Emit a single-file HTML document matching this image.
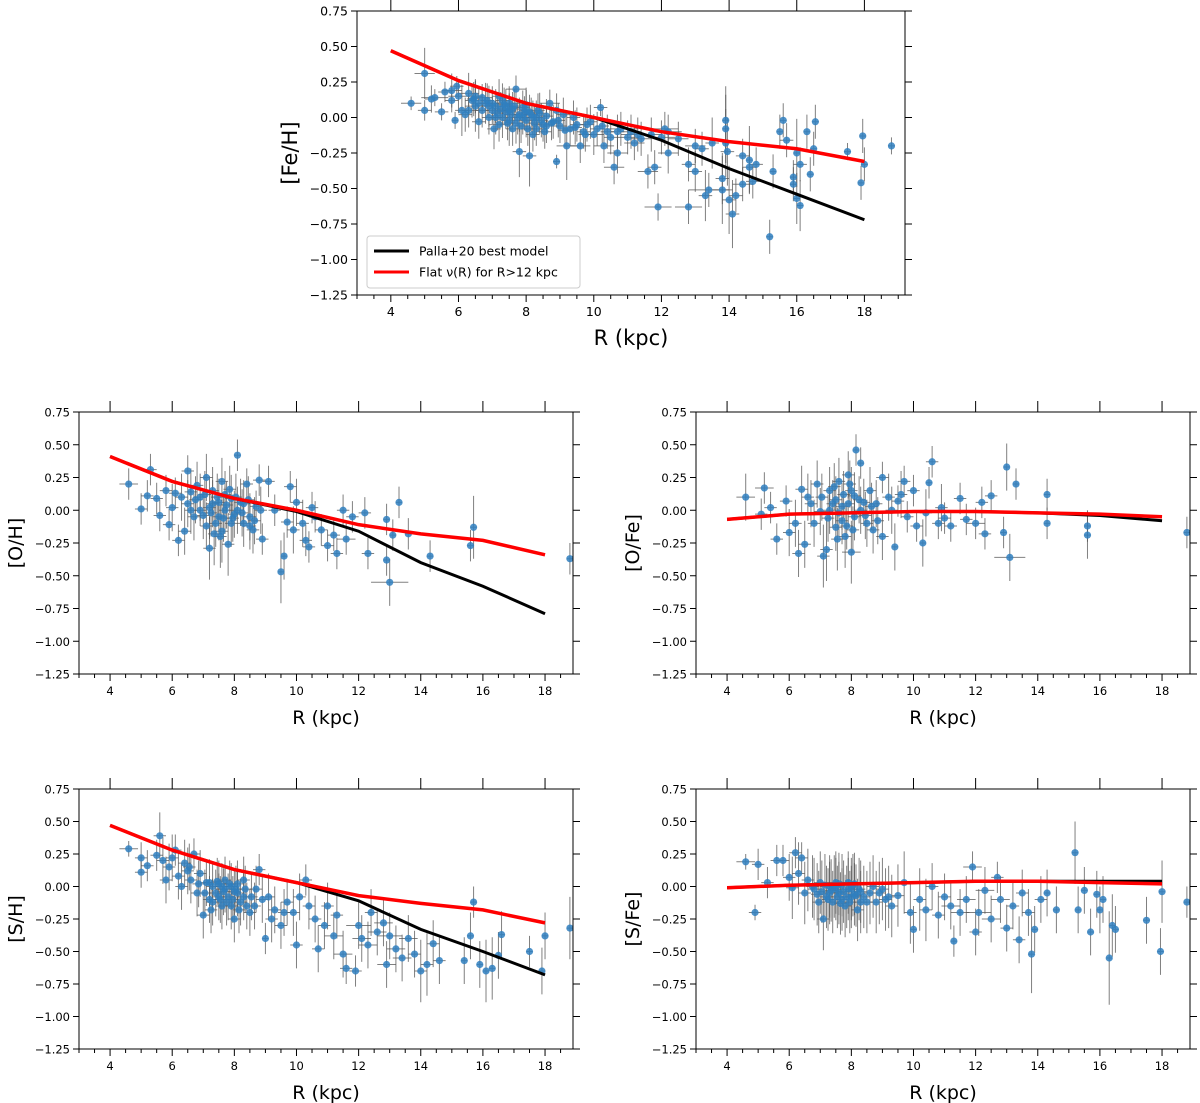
<!DOCTYPE html>
<html><head><meta charset="utf-8"><style>
html,body{margin:0;padding:0;background:#fff;}
svg{display:block;font-family:"DejaVu Sans","Liberation Sans",sans-serif;}
</style></head><body>
<svg id="fig" width="1200" height="1103" viewBox="0 0 1200 1103" xmlns="http://www.w3.org/2000/svg"></svg>
<script>
const yTicks=[0.75,0.5,0.25,0,-0.25,-0.5,-0.75,-1.0,-1.25];
const yTickLabels=["0.75","0.50","0.25","0.00","−0.25","−0.50","−0.75","−1.00","−1.25"];
const xTicks=[4,6,8,10,12,14,16,18];
const modelR=[4,6,8,10,12,14,16,18];
const feBlack=[0.47,0.26,0.10,0.0,-0.16,-0.36,-0.54,-0.72];
const feRed=[0.47,0.26,0.10,0.0,-0.10,-0.17,-0.22,-0.31];
const ohBlack=[0.41,0.22,0.09,-0.01,-0.16,-0.40,-0.58,-0.79];
const ohRed=[0.41,0.22,0.09,0.0,-0.11,-0.18,-0.23,-0.34];
const ofeBlack=[-0.07,-0.03,-0.02,-0.01,-0.01,-0.02,-0.04,-0.08];
const ofeRed=[-0.07,-0.03,-0.02,-0.01,-0.01,-0.02,-0.03,-0.05];
const shBlack=[0.47,0.28,0.13,0.03,-0.11,-0.33,-0.50,-0.68];
const shRed=[0.47,0.28,0.13,0.03,-0.07,-0.13,-0.18,-0.28];
const sfeBlack=[-0.01,0.01,0.02,0.03,0.04,0.04,0.04,0.04];
const sfeRed=[-0.01,0.01,0.02,0.03,0.04,0.04,0.03,0.02];
// points: [R, value, yErr, xErr]
const fePts=[[4.6,0.10,0.04,0.3],[5.0,0.31,0.15,0.3],[5.0,0.05,0.06,0.2],[5.3,0.14,0.05,0.4],[5.2,0.13,0.08,0.2],[5.5,0.04,0.05,0.2],[5.6,0.18,0.06,0.2],[5.8,0.19,0.1,0.3],[5.8,0.12,0.07,0.2],[5.9,-0.02,0.05,0.1],[5.95,0.22,0.06,0.2],[6.0,0.15,0.1,0.3],[6.1,0.05,0.15,0.2],[6.2,0.02,0.1,0.2],[6.3,0.17,0.12,0.3],[6.4,0.12,0.1,0.2],[6.5,0.08,0.15,0.3],[6.5,0.15,0.1,0.2],[6.6,-0.03,0.1,0.2],[6.7,0.14,0.08,0.3],[6.8,0.10,0.12,0.2],[6.9,0.0,0.1,0.2],[7.0,0.05,0.08,0.5],[7.1,0.08,0.1,0.2],[7.2,-0.05,0.1,0.3],[7.3,0.12,0.1,0.2],[7.3,0.0,0.12,0.2],[7.4,0.04,0.1,0.3],[7.5,-0.02,0.15,0.2],[7.5,0.10,0.1,0.4],[7.6,0.06,0.1,0.2],[7.7,0.20,0.08,0.3],[7.7,-0.04,0.12,0.2],[7.8,0.02,0.1,0.3],[7.8,-0.24,0.15,0.2],[7.9,0.07,0.1,0.2],[8.0,-0.02,0.1,0.3],[8.0,0.05,0.12,0.2],[8.1,-0.27,0.18,0.2],[8.2,0.0,0.1,0.2],[8.3,-0.08,0.1,0.3],[8.4,0.03,0.12,0.2],[8.5,-0.05,0.1,0.3],[8.6,0.01,0.1,0.2],[8.7,0.10,0.08,0.3],[8.8,-0.03,0.1,0.2],[8.9,0.05,0.1,0.2],[8.9,-0.31,0.04,0.1],[9.0,-0.06,0.1,0.2],[9.1,0.02,0.1,0.2],[9.2,-0.20,0.2,0.3],[9.3,-0.08,0.1,0.2],[9.5,-0.05,0.1,0.2],[9.6,-0.20,0.1,0.3],[9.7,-0.10,0.1,0.2],[9.8,-0.05,0.1,0.2],[10.0,-0.12,0.12,0.3],[10.1,-0.08,0.1,0.2],[10.2,0.07,0.05,0.2],[10.3,-0.20,0.1,0.3],[10.5,-0.14,0.1,0.2],[10.6,-0.35,0.1,0.3],[10.7,-0.25,0.12,0.3],[10.8,-0.08,0.1,0.5],[11.0,-0.14,0.1,0.3],[11.2,-0.18,0.1,0.3],[11.3,-0.12,0.1,0.5],[11.6,-0.38,0.1,0.3],[11.8,-0.35,0.1,0.2],[11.9,-0.63,0.08,0.4],[12.1,-0.08,0.1,0.4],[12.2,-0.25,0.12,0.3],[12.5,-0.15,0.1,0.3],[12.8,-0.63,0.1,0.4],[12.8,-0.33,0.1,0.2],[13.0,-0.38,0.12,0.2],[13.0,-0.20,0.1,0.3],[13.2,-0.22,0.1,0.2],[13.3,-0.55,0.15,0.2],[13.4,-0.51,0.1,0.6],[13.5,-0.18,0.15,0.2],[13.8,-0.43,0.15,0.2],[13.8,-0.51,0.2,0.3],[13.9,-0.02,0.2,0.1],[13.9,-0.08,0.2,0.1],[13.9,-0.18,0.2,0.1],[13.95,-0.24,0.2,0.2],[14.2,-0.55,0.1,0.2],[14.0,-0.58,0.2,0.2],[14.1,-0.68,0.2,0.2],[14.4,-0.47,0.1,0.3],[14.4,-0.27,0.1,0.2],[14.6,-0.30,0.2,0.1],[14.6,-0.35,0.15,0.2],[14.7,-0.45,0.1,0.2],[14.8,-0.33,0.1,0.2],[15.3,-0.38,0.1,0.1],[15.2,-0.84,0.1,0.1],[15.5,-0.10,0.1,0.1],[15.6,-0.02,0.1,0.1],[15.7,-0.16,0.1,0.2],[15.9,-0.42,0.1,0.1],[15.9,-0.47,0.1,0.1],[16.0,-0.57,0.15,0.1],[16.0,-0.25,0.2,0.1],[16.1,-0.62,0.15,0.1],[16.1,-0.33,0.1,0.2],[16.3,-0.10,0.1,0.1],[16.4,-0.40,0.1,0.1],[16.5,-0.22,0.1,0.1],[16.55,-0.03,0.1,0.1],[17.5,-0.24,0.05,0.1],[17.9,-0.46,0.1,0.1],[17.95,-0.13,0.1,0.1],[18.0,-0.33,0.1,0.1],[18.8,-0.20,0.05,0.1],
[6.6,0.10,0.1,0.2],[6.9,0.08,0.12,0.2],[7.1,0.0,0.1,0.2],[7.4,0.08,0.1,0.2],[7.6,-0.08,0.1,0.2],[7.9,0.0,0.1,0.2],[8.1,0.04,0.1,0.2],[8.3,0.0,0.1,0.2],[8.6,-0.06,0.1,0.2],[8.2,-0.12,0.1,0.2],[7.2,0.15,0.1,0.2],[6.3,0.05,0.1,0.2],[9.4,0.0,0.1,0.2],[9.9,-0.03,0.1,0.2],[10.4,-0.10,0.1,0.2],[11.4,-0.15,0.1,0.3],[12.0,-0.14,0.1,0.4],
[6.45,0.13,0.1,0.2],[6.7,0.05,0.1,0.2],[6.85,0.12,0.1,0.2],[7.0,0.10,0.1,0.2],[7.15,0.03,0.1,0.2],[7.25,0.06,0.1,0.2],[7.35,0.09,0.1,0.2],[7.45,-0.04,0.1,0.2],[7.55,0.02,0.1,0.2],[7.65,0.08,0.1,0.2],[7.75,0.0,0.1,0.2],[7.85,-0.06,0.1,0.2],[7.95,0.03,0.1,0.2],[8.05,-0.08,0.1,0.2],[8.15,0.02,0.1,0.2],[8.25,-0.04,0.1,0.2],[8.35,0.05,0.1,0.2],[8.45,-0.02,0.1,0.2],[8.55,-0.10,0.1,0.2],[8.75,-0.04,0.1,0.2],[8.95,-0.02,0.1,0.2],[9.15,-0.09,0.1,0.2],[9.45,-0.07,0.1,0.2],[9.75,-0.12,0.1,0.2],[10.25,-0.06,0.1,0.2],[10.7,-0.10,0.1,0.2],[11.1,-0.10,0.1,0.3],[11.7,-0.12,0.1,0.3],[12.2,-0.10,0.1,0.4],[7.05,-0.08,0.12,0.2],[7.5,0.05,0.1,0.2],[8.0,0.09,0.1,0.2]];
const ohPts=[[4.6,0.20,0.1,0.3],[5.0,0.01,0.1,0.2],[5.2,0.11,0.1,0.2],[5.3,0.31,0.1,0.2],[5.5,0.09,0.1,0.2],[5.6,-0.04,0.1,0.2],[5.8,0.15,0.1,0.2],[5.9,-0.11,0.1,0.2],[6.0,0.02,0.15,0.2],[6.1,0.13,0.1,0.2],[6.2,-0.23,0.1,0.2],[6.3,0.10,0.15,0.2],[6.4,-0.16,0.15,0.2],[6.5,0.30,0.1,0.2],[6.5,0.05,0.15,0.2],[6.6,0.14,0.15,0.2],[6.7,-0.05,0.15,0.2],[6.8,0.19,0.15,0.2],[6.9,0.10,0.15,0.2],[7.0,-0.04,0.15,0.2],[7.1,0.25,0.15,0.2],[7.2,0.02,0.2,0.2],[7.2,-0.29,0.2,0.2],[7.3,0.15,0.15,0.2],[7.4,-0.10,0.15,0.2],[7.5,0.06,0.15,0.2],[7.6,0.22,0.15,0.2],[7.6,-0.16,0.2,0.2],[7.7,0.0,0.15,0.2],[7.8,-0.26,0.2,0.2],[7.9,0.09,0.15,0.2],[8.0,-0.03,0.15,0.2],[8.1,0.42,0.1,0.1],[8.2,0.06,0.15,0.2],[8.3,-0.10,0.15,0.2],[8.4,0.20,0.1,0.2],[8.5,-0.05,0.15,0.2],[8.6,-0.15,0.15,0.2],[8.7,0.03,0.1,0.2],[8.8,0.23,0.1,0.2],[8.9,-0.22,0.1,0.2],[9.1,0.22,0.1,0.2],[9.3,0.0,0.1,0.2],[9.5,-0.47,0.2,0.1],[9.6,-0.35,0.15,0.1],[9.7,-0.09,0.1,0.2],[9.8,0.18,0.1,0.2],[9.9,-0.15,0.15,0.2],[10.0,0.06,0.15,0.2],[10.2,-0.10,0.15,0.2],[10.3,-0.23,0.1,0.2],[10.4,-0.28,0.1,0.2],[10.5,0.02,0.1,0.2],[10.6,-0.05,0.1,0.2],[10.8,-0.15,0.1,0.2],[11.0,-0.27,0.1,0.2],[11.2,-0.19,0.1,0.2],[11.3,-0.33,0.1,0.2],[11.5,0.0,0.1,0.2],[11.6,-0.22,0.1,0.3],[11.8,-0.05,0.1,0.2],[12.2,-0.02,0.1,0.2],[12.3,-0.33,0.1,0.2],[12.9,-0.07,0.1,0.1],[12.9,-0.38,0.1,0.1],[13.0,-0.55,0.15,0.6],[13.1,-0.19,0.1,0.1],[13.3,0.06,0.1,0.1],[13.6,-0.18,0.1,0.1],[14.3,-0.35,0.1,0.1],[15.6,-0.27,0.1,0.1],[15.7,-0.13,0.2,0.1],[18.8,-0.37,0.1,0.1],
[6.9,0.0,0.1,0.2],[7.3,0.05,0.15,0.2],[7.5,-0.05,0.15,0.2],[7.7,0.12,0.15,0.2],[7.9,-0.1,0.15,0.2],[8.1,0.0,0.15,0.2],[8.3,0.05,0.15,0.2],[8.5,-0.12,0.15,0.2],[7.1,-0.12,0.15,0.2],[6.6,0.0,0.15,0.2],
[6.75,0.08,0.15,0.2],[7.05,0.12,0.15,0.2],[7.25,-0.02,0.15,0.2],[7.45,0.10,0.15,0.2],[7.55,-0.20,0.2,0.2],[7.75,0.04,0.15,0.2],[7.85,0.16,0.15,0.2],[7.95,-0.06,0.15,0.2],[8.05,0.10,0.15,0.2],[8.25,-0.02,0.15,0.2],[8.45,0.08,0.15,0.2],[8.65,-0.08,0.15,0.2],[8.85,0.0,0.15,0.2],[7.35,-0.18,0.2,0.2],[7.65,-0.06,0.15,0.2]];
const ofePts=[[4.6,0.10,0.15,0.3],[5.2,0.17,0.1,0.3],[5.1,-0.03,0.1,0.2],[5.4,0.02,0.1,0.2],[5.6,-0.22,0.1,0.2],[5.9,0.07,0.1,0.2],[6.0,-0.17,0.15,0.2],[6.2,-0.10,0.15,0.2],[6.3,-0.33,0.15,0.2],[6.4,0.16,0.15,0.2],[6.5,-0.26,0.15,0.2],[6.6,0.10,0.15,0.2],[6.7,0.05,0.15,0.2],[6.8,-0.10,0.15,0.2],[6.9,0.20,0.15,0.2],[7.0,-0.01,0.15,0.2],[7.1,-0.35,0.2,0.2],[7.2,-0.30,0.2,0.2],[7.3,0.15,0.15,0.2],[7.4,0.05,0.15,0.2],[7.5,-0.13,0.15,0.2],[7.6,0.22,0.15,0.2],[7.7,0.03,0.15,0.2],[7.8,-0.20,0.2,0.2],[7.9,0.27,0.15,0.2],[8.0,-0.32,0.2,0.3],[8.1,0.11,0.15,0.2],[8.15,0.46,0.1,0.1],[8.3,0.36,0.1,0.1],[8.4,0.06,0.15,0.2],[8.5,-0.10,0.15,0.2],[8.6,0.15,0.15,0.2],[8.7,-0.15,0.15,0.2],[8.8,0.05,0.15,0.2],[9.0,-0.20,0.15,0.2],[9.0,0.25,0.1,0.2],[9.2,0.10,0.15,0.2],[9.4,-0.28,0.15,0.1],[9.5,0.07,0.1,0.2],[9.7,0.22,0.1,0.2],[9.8,-0.05,0.1,0.2],[10.0,0.15,0.1,0.2],[10.1,-0.12,0.1,0.2],[10.3,-0.25,0.15,0.1],[10.5,0.21,0.1,0.1],[10.6,0.37,0.1,0.2],[10.8,-0.10,0.1,0.2],[11.0,-0.06,0.1,0.2],[11.2,-0.12,0.1,0.2],[11.5,0.09,0.1,0.2],[11.7,-0.07,0.1,0.2],[12.0,-0.10,0.1,0.3],[12.2,0.06,0.1,0.2],[12.3,-0.18,0.1,0.2],[12.5,0.11,0.1,0.2],[12.9,-0.17,0.1,0.1],[13.0,0.33,0.15,0.1],[13.1,-0.36,0.15,0.5],[13.3,0.20,0.1,0.1],[14.3,0.12,0.1,0.1],[14.3,-0.10,0.1,0.1],[15.6,-0.19,0.15,0.1],[15.6,-0.12,0.1,0.1],[18.8,-0.17,0.1,0.1],
[7.3,0.0,0.15,0.2],[7.5,0.08,0.15,0.2],[7.7,-0.08,0.15,0.2],[7.9,0.05,0.15,0.2],[8.1,-0.05,0.15,0.2],[8.3,0.0,0.15,0.2],[7.6,-0.02,0.15,0.2],[8.0,0.15,0.15,0.2],
[7.05,0.10,0.15,0.2],[7.25,-0.06,0.15,0.2],[7.45,0.18,0.15,0.2],[7.55,-0.22,0.2,0.2],[7.75,0.12,0.15,0.2],[7.85,-0.12,0.15,0.2],[7.95,0.20,0.15,0.2],[8.05,-0.15,0.15,0.2],[8.25,0.08,0.15,0.2],[8.45,-0.04,0.15,0.2],[8.65,0.03,0.15,0.2],[8.85,-0.08,0.15,0.2],[9.3,0.0,0.15,0.2],[9.6,0.12,0.15,0.2],[10.4,-0.02,0.15,0.2],[10.9,0.02,0.15,0.2]];
const shPts=[[4.6,0.29,0.05,0.3],[5.0,0.22,0.1,0.2],[5.0,0.11,0.1,0.2],[5.2,0.16,0.1,0.2],[5.5,0.24,0.1,0.2],[5.6,0.39,0.15,0.2],[5.7,0.20,0.15,0.2],[5.8,0.05,0.15,0.2],[5.9,0.15,0.15,0.2],[6.0,0.22,0.15,0.2],[6.1,0.28,0.1,0.2],[6.2,0.08,0.15,0.2],[6.3,0.0,0.15,0.2],[6.4,0.18,0.15,0.2],[6.5,0.12,0.15,0.2],[6.6,0.05,0.15,0.2],[6.7,0.25,0.1,0.2],[6.8,-0.05,0.15,0.2],[6.9,0.10,0.15,0.2],[7.0,-0.22,0.15,0.2],[7.1,0.03,0.15,0.2],[7.2,-0.10,0.15,0.2],[7.3,0.0,0.15,0.2],[7.4,-0.05,0.15,0.2],[7.5,0.02,0.15,0.3],[7.6,-0.15,0.15,0.2],[7.7,-0.02,0.15,0.3],[7.8,-0.08,0.15,0.2],[7.9,0.0,0.15,0.2],[8.0,-0.25,0.15,0.2],[8.1,-0.05,0.15,0.2],[8.2,-0.12,0.15,0.2],[8.3,0.05,0.15,0.2],[8.5,-0.20,0.15,0.2],[8.7,-0.02,0.15,0.2],[8.8,0.13,0.1,0.2],[9.0,-0.40,0.1,0.1],[9.1,-0.08,0.15,0.2],[9.3,-0.18,0.15,0.2],[9.5,-0.30,0.15,0.2],[9.7,-0.12,0.15,0.2],[9.9,-0.20,0.15,0.2],[10.0,-0.45,0.15,0.2],[10.1,-0.08,0.15,0.2],[10.3,0.05,0.1,0.2],[10.4,-0.15,0.15,0.2],[10.6,-0.25,0.15,0.2],[10.7,-0.48,0.15,0.2],[10.9,-0.30,0.15,0.2],[11.0,-0.15,0.15,0.2],[11.2,-0.38,0.15,0.3],[11.3,-0.22,0.15,0.2],[11.5,-0.52,0.15,0.3],[11.6,-0.63,0.1,0.2],[11.9,-0.65,0.1,0.2],[12.0,-0.30,0.15,0.4],[12.1,-0.40,0.15,0.3],[12.3,-0.45,0.15,0.3],[12.4,-0.20,0.15,0.2],[12.6,-0.35,0.15,0.3],[12.8,-0.28,0.15,0.3],[12.9,-0.60,0.15,0.3],[13.0,-0.38,0.15,0.4],[13.2,-0.48,0.15,0.3],[13.4,-0.55,0.15,0.3],[13.6,-0.40,0.15,0.3],[13.8,-0.52,0.15,0.2],[14.0,-0.65,0.2,0.2],[14.2,-0.60,0.2,0.2],[14.4,-0.44,0.15,0.2],[14.6,-0.57,0.15,0.2],[15.4,-0.57,0.15,0.1],[15.6,-0.38,0.15,0.1],[15.7,-0.12,0.1,0.1],[15.9,-0.60,0.15,0.1],[16.1,-0.65,0.2,0.1],[16.3,-0.63,0.2,0.1],[16.5,-0.53,0.15,0.1],[16.6,-0.37,0.15,0.1],[17.5,-0.50,0.1,0.1],[17.9,-0.65,0.15,0.1],[18.0,-0.38,0.15,0.1],[18.8,-0.32,0.2,0.1],
[7.3,-0.12,0.15,0.2],[7.5,-0.08,0.15,0.2],[7.7,0.05,0.15,0.2],[7.9,-0.15,0.15,0.2],[8.1,0.02,0.15,0.2],[8.3,-0.08,0.15,0.2],[7.6,0.0,0.15,0.2],[8.0,-0.04,0.15,0.2],[8.4,-0.15,0.15,0.2],[7.2,0.03,0.15,0.2],
[7.05,-0.05,0.15,0.2],[7.25,-0.18,0.15,0.2],[7.45,0.04,0.15,0.2],[7.55,-0.10,0.15,0.2],[7.65,-0.04,0.15,0.2],[7.75,-0.12,0.15,0.2],[7.85,0.02,0.15,0.2],[7.95,-0.10,0.15,0.2],[8.05,-0.02,0.15,0.2],[8.15,-0.18,0.15,0.2],[8.35,-0.02,0.15,0.2],[8.55,-0.08,0.15,0.2],[8.65,-0.15,0.15,0.2],[8.9,-0.10,0.15,0.2],[9.2,-0.25,0.15,0.2],[9.6,-0.20,0.15,0.2],[6.85,0.02,0.15,0.2],[6.55,0.15,0.15,0.2]];
const sfePts=[[4.6,0.19,0.05,0.3],[4.9,-0.20,0.05,0.2],[5.0,0.17,0.1,0.2],[5.3,0.03,0.1,0.2],[5.6,0.20,0.1,0.2],[5.8,0.20,0.1,0.2],[6.0,0.07,0.15,0.2],[6.1,-0.01,0.2,0.2],[6.2,0.26,0.1,0.2],[6.3,0.10,0.2,0.2],[6.4,0.22,0.1,0.2],[6.5,-0.05,0.2,0.2],[6.6,0.05,0.2,0.2],[6.8,-0.02,0.2,0.2],[6.9,-0.06,0.2,0.2],[7.0,0.03,0.2,0.2],[7.1,-0.25,0.2,0.2],[7.2,-0.08,0.2,0.2],[7.3,0.0,0.2,0.3],[7.4,-0.12,0.2,0.2],[7.5,0.03,0.2,0.3],[7.6,-0.05,0.2,0.2],[7.7,0.01,0.2,0.3],[7.8,-0.15,0.2,0.2],[7.9,-0.02,0.2,0.2],[8.0,-0.08,0.2,0.2],[8.1,0.02,0.2,0.2],[8.2,-0.18,0.2,0.2],[8.3,-0.04,0.2,0.2],[8.5,-0.12,0.2,0.2],[8.7,0.0,0.2,0.2],[8.9,-0.05,0.2,0.2],[9.1,-0.10,0.2,0.2],[9.3,-0.15,0.2,0.2],[9.5,-0.07,0.2,0.2],[9.7,0.03,0.2,0.2],[9.9,-0.20,0.2,0.2],[10.0,-0.33,0.15,0.1],[10.2,-0.10,0.2,0.2],[10.4,-0.18,0.2,0.2],[10.6,0.0,0.15,0.2],[10.8,-0.22,0.15,0.2],[11.0,-0.08,0.15,0.2],[11.2,-0.15,0.15,0.3],[11.3,-0.42,0.1,0.1],[11.5,-0.20,0.15,0.3],[11.7,-0.10,0.15,0.3],[11.9,0.15,0.1,0.3],[12.0,-0.35,0.15,0.2],[12.1,-0.20,0.15,0.4],[12.3,-0.03,0.15,0.3],[12.5,-0.25,0.15,0.3],[12.7,0.07,0.1,0.2],[12.8,-0.10,0.15,0.3],[13.0,-0.32,0.15,0.2],[13.2,-0.15,0.15,0.2],[13.4,-0.41,0.15,0.2],[13.5,-0.05,0.15,0.2],[13.7,-0.20,0.15,0.2],[13.8,-0.52,0.25,0.1],[13.9,-0.33,0.15,0.1],[14.1,-0.10,0.15,0.2],[14.3,-0.05,0.15,0.1],[14.6,-0.18,0.15,0.1],[15.2,0.26,0.2,0.1],[15.3,-0.18,0.15,0.1],[15.5,-0.03,0.15,0.1],[15.7,-0.35,0.15,0.1],[15.9,-0.06,0.15,0.1],[16.0,-0.18,0.15,0.1],[16.1,-0.10,0.15,0.1],[16.3,-0.55,0.3,0.1],[16.4,-0.30,0.2,0.1],[16.5,-0.33,0.15,0.1],[17.5,-0.26,0.15,0.1],[17.95,-0.50,0.15,0.1],[18.0,-0.04,0.2,0.1],[18.8,-0.12,0.1,0.1],
[7.3,-0.05,0.2,0.2],[7.5,-0.02,0.2,0.2],[7.7,-0.10,0.2,0.2],[7.9,0.03,0.2,0.2],[8.1,-0.06,0.2,0.2],[8.3,-0.12,0.2,0.2],[7.6,0.02,0.2,0.2],[8.0,-0.02,0.2,0.2],
[7.05,-0.04,0.2,0.2],[7.15,0.01,0.2,0.2],[7.25,-0.10,0.2,0.2],[7.35,-0.03,0.2,0.2],[7.45,0.0,0.2,0.2],[7.55,-0.08,0.2,0.2],[7.65,-0.13,0.2,0.2],[7.75,-0.04,0.2,0.2],[7.85,-0.08,0.2,0.2],[7.95,-0.12,0.2,0.2],[8.05,0.01,0.2,0.2],[8.15,-0.07,0.2,0.2],[8.25,-0.02,0.2,0.2],[8.4,-0.08,0.2,0.2],[8.6,-0.05,0.2,0.2],[8.8,-0.12,0.2,0.2],[9.0,-0.02,0.2,0.2],[9.2,-0.08,0.2,0.2],[6.95,-0.12,0.2,0.2],[6.75,0.0,0.2,0.2]];

const NS="http://www.w3.org/2000/svg";
const svg=document.getElementById('fig');
function mk(tag,attrs,parent){const e=document.createElementNS(NS,tag);for(const k in attrs)e.setAttribute(k,attrs[k]);(parent||svg).appendChild(e);return e;}

const panels=[
 {id:'fe-h',box:[357,11,905,295],xmax:19.2,label:'[Fe/H]',pts:fePts,black:feBlack,red:feRed,fs:12.5,tfs:21,ylx:290,legend:true},
 {id:'o-h',box:[79,412,573,674],xmax:18.9,label:'[O/H]',pts:ohPts,black:ohBlack,red:ohRed,fs:11.5,tfs:19,ylx:16},
 {id:'o-fe',box:[696,412,1190,674],xmax:18.9,label:'[O/Fe]',pts:ofePts,black:ofeBlack,red:ofeRed,fs:11.5,tfs:19,ylx:633},
 {id:'s-h',box:[79,789,573,1049],xmax:18.9,label:'[S/H]',pts:shPts,black:shBlack,red:shRed,fs:11.5,tfs:19,ylx:16},
 {id:'s-fe',box:[696,789,1190,1049],xmax:18.9,label:'[S/Fe]',pts:sfePts,black:sfeBlack,red:sfeRed,fs:11.5,tfs:19,ylx:633}
];

panels.forEach(p=>{
 const [x0,y0,x1,y1]=p.box;
 const g=mk('g',{});
 
 
 const sx=v=>x0+(v-3)/(p.xmax-3)*(x1-x0);
 const sy=v=>y0+(0.75-v)/2.0*(y1-y0);
 const pg=mk('g',{},g);
 
 
 p.pts.forEach(d=>{
  const cx=sx(d[0]),cy=sy(d[1]);
  const eb=mk('path',{d:`M${sx(d[0]-d[3])},${cy}H${sx(d[0]+d[3])}M${cx},${sy(d[1]+d[2]*1.2)}V${sy(d[1]-d[2]*1.2)}`,stroke:'#555',"stroke-width":1,"stroke-opacity":0.75,fill:'none'},pg);
  
  
 });
 p.pts.forEach(d=>{
  const c=mk('circle',{cx:sx(d[0]),cy:sy(d[1]),r:3.6,fill:'#2f7fbf',"fill-opacity":0.85},pg);
  
  
 });
 const lb=mk('polyline',{points:modelR.map((r,i)=>sx(r)+','+sy(p.black[i])).join(' '),fill:'none',stroke:'#000',"stroke-width":3},g);
 
 
 const lr=mk('polyline',{points:modelR.map((r,i)=>sx(r)+','+sy(p.red[i])).join(' '),fill:'none',stroke:'#f00',"stroke-width":3.5},g);
 
 
 const fr=mk('rect',{x:x0,y:y0,width:x1-x0,height:y1-y0,fill:'none',stroke:'#000',"stroke-width":1},g);
 
 
 yTicks.forEach((t,i)=>{
  const y=sy(t);
  mk('line',{x1:x0-6,x2:x0,y1:y,y2:y,stroke:'#000'},g);
  mk('line',{x1:x1,x2:x1+7,y1:y,y2:y,stroke:'#000'},g);
  const tx=mk('text',{x:x0-9,y:y+4.5,"text-anchor":'end',"font-size":p.fs,fill:'#000'},g);
  tx.textContent=yTickLabels[i];
  
  
 });
 for(let k=0;k<=Math.floor((p.xmax-3)*2);k++){
  const v=3+k*0.5; const x=sx(v);
  const major=xTicks.includes(v);
  mk('line',{x1:x,x2:x,y1:y1,y2:y1+(major?7:4),stroke:'#000'},g);
 }
 xTicks.forEach(t=>{
  const x=sx(t);
  mk('line',{x1:x,x2:x,y1:y0-11,y2:y0,stroke:'#000'},g);
  const tx=mk('text',{x:x,y:y1+21,"text-anchor":'middle',"font-size":p.fs,fill:'#000'},g);
  tx.textContent=String(t);
  
  
 });
 const xt=mk('text',{x:(x0+x1)/2,y:y1+50,"text-anchor":'middle',"font-size":p.tfs,fill:'#000'},g);
 xt.textContent='R (kpc)';
 
 
 const yc=(y0+y1)/2;
 const yt=mk('text',{x:p.ylx,y:yc,"text-anchor":'middle',"font-size":p.tfs,fill:'#000',transform:`rotate(-90 ${p.ylx} ${yc})`,"dominant-baseline":'central'},g);
 yt.textContent=p.label;
 
 
 if(p.legend){
  const lg=mk('g',{},g);
  
  
  mk('rect',{x:367,y:236,width:213,height:52,rx:3,fill:'#fff',"fill-opacity":0.85,stroke:'#ccc'},lg);
  mk('line',{x1:374,x2:409,y1:251,y2:251,stroke:'#000',"stroke-width":3},lg);
  const t1=mk('text',{x:419,y:255.5,"font-size":12.5},lg); t1.textContent='Palla+20 best model';
  
  
  mk('line',{x1:374,x2:409,y1:272,y2:272,stroke:'#f00',"stroke-width":3},lg);
  const t2=mk('text',{x:419,y:276.5,"font-size":12.5},lg); t2.textContent='Flat ν(R) for R>12 kpc';
  
  
 }
});
</script>
</body></html>
